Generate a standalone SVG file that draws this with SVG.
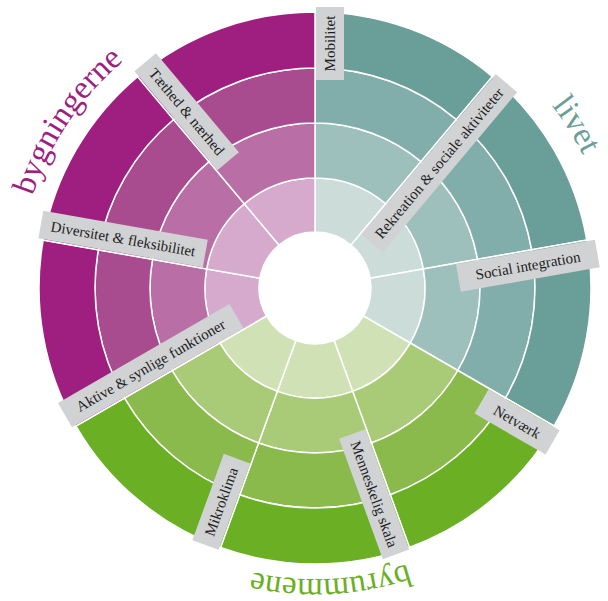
<svg xmlns="http://www.w3.org/2000/svg" width="608" height="601" viewBox="0 0 608 601">
<style>
.seg{stroke:#ffffff;stroke-width:1.5}
.box{fill:#d1d2d4}
.lbl{font-family:"Liberation Serif",serif;font-size:15px;fill:#1e1e1e;text-anchor:middle}
.grp{font-family:"Liberation Serif",serif;font-size:33px;text-anchor:middle}
.t1{fill:#cbdcd9}.t2{fill:#9ec0bd}.t3{fill:#81aeaa}.t4{fill:#6a9e98}
.g1{fill:#d0e2b5}.g2{fill:#a9cb77}.g3{fill:#89ba4b}.g4{fill:#6aaf24}
.p1{fill:#d5aacd}.p2{fill:#b96ea5}.p3{fill:#a94b8f}.p4{fill:#9e1f7f}
</style>
<defs>
<path id="r1" d="M0,-110 A110,110 0 0 1 70.71,-84.26 L36,-42.9 A56,56 0 0 0 0,-56 Z"/>
<path id="r2" d="M0,-165 A165,165 0 0 1 106.06,-126.4 L70.71,-84.26 A110,110 0 0 0 0,-110 Z"/>
<path id="r3" d="M0,-220 A220,220 0 0 1 141.41,-168.53 L106.06,-126.4 A165,165 0 0 0 0,-165 Z"/>
<path id="r4" d="M0,-276 A276,276 0 0 1 177.41,-211.43 L141.41,-168.53 A220,220 0 0 0 0,-220 Z"/>
<path id="arcBy" d="M48.1,418.2 A297,297 0 0 1 335.7,-8.3"/>
<path id="arcLi" d="M304.6,-10.8 A299,299 0 0 1 579,428.4"/>
<path id="arcRu" d="M574.3,420.1 A291,291 0 0 1 70.9,446.5"/>
</defs>

<g id="mobilitet" transform="translate(315 288)">
<g transform="rotate(0)"><use href="#r1" class="seg t1"/><use href="#r2" class="seg t2"/><use href="#r3" class="seg t3"/><use href="#r4" class="seg t4"/></g>
<g transform="rotate(-90)"><rect class="box" x="208" y="1" width="73" height="28"/><text class="lbl" x="244.5" y="20">Mobilitet</text></g>
</g>

<g id="rekreation" transform="translate(315 288)">
<g transform="rotate(40)"><use href="#r1" class="seg t1"/><use href="#r2" class="seg t2"/><use href="#r3" class="seg t3"/><use href="#r4" class="seg t4"/></g>
<g transform="rotate(-50)"><rect class="box" x="71" y="1" width="209" height="28"/><text class="lbl" x="175.5" y="20">Rekreation &amp; sociale aktiviteter</text></g>
</g>

<g id="social-integration" transform="translate(315 288)">
<g transform="rotate(80)"><use href="#r1" class="seg t1"/><use href="#r2" class="seg t2"/><use href="#r3" class="seg t3"/><use href="#r4" class="seg t4"/></g>
<g transform="rotate(-10)"><rect class="box" x="143" y="1" width="141" height="28"/><text class="lbl" x="213.5" y="20">Social integration</text></g>
</g>

<g id="netvaerk" transform="translate(315 288)">
<g transform="rotate(120)"><use href="#r1" class="seg g1"/><use href="#r2" class="seg g2"/><use href="#r3" class="seg g3"/><use href="#r4" class="seg g4"/></g>
<g transform="rotate(30)"><rect class="box" x="201" y="1" width="82" height="28"/><text class="lbl" x="242" y="20">Netværk</text></g>
</g>

<g id="menneskelig-skala" transform="translate(315 288)">
<g transform="rotate(160)"><use href="#r1" class="seg g1"/><use href="#r2" class="seg g2"/><use href="#r3" class="seg g3"/><use href="#r4" class="seg g4"/></g>
<g transform="rotate(70)"><rect class="box" x="150" y="1" width="128" height="28"/><text class="lbl" x="214" y="20">Menneskelig skala</text></g>
</g>

<g id="mikroklima" transform="translate(315 288)">
<g transform="rotate(200)"><use href="#r1" class="seg g1"/><use href="#r2" class="seg g2"/><use href="#r3" class="seg g3"/><use href="#r4" class="seg g4"/></g>
<g transform="rotate(290)"><rect class="box" x="-279" y="-29" width="92" height="28"/><text class="lbl" x="-233" y="-10">Mikroklima</text></g>
</g>

<g id="aktive-synlige" transform="translate(315 288)">
<g transform="rotate(240)"><use href="#r1" class="seg p1"/><use href="#r2" class="seg p2"/><use href="#r3" class="seg p3"/><use href="#r4" class="seg p4"/></g>
<g transform="rotate(330)"><rect class="box" x="-280" y="-29" width="198" height="28"/><text class="lbl" x="-181" y="-10">Aktive &amp; synlige funktioner</text></g>
</g>

<g id="diversitet" transform="translate(315 288)">
<g transform="rotate(280)"><use href="#r1" class="seg p1"/><use href="#r2" class="seg p2"/><use href="#r3" class="seg p3"/><use href="#r4" class="seg p4"/></g>
<g transform="rotate(370)"><rect class="box" x="-281" y="-29" width="167" height="28"/><text class="lbl" x="-197.5" y="-10">Diversitet &amp; fleksibilitet</text></g>
</g>

<g id="taethed" transform="translate(315 288)">
<g transform="rotate(320)"><use href="#r1" class="seg p1"/><use href="#r2" class="seg p2"/><use href="#r3" class="seg p3"/><use href="#r4" class="seg p4"/></g>
<g transform="rotate(410)"><rect class="box" x="-282" y="-29" width="129" height="28"/><text class="lbl" x="-217.5" y="-10">Tæthed &amp; nærhed</text></g>
</g>

<g id="group-labels">
<text class="grp" fill="#9e1f7f"><textPath href="#arcBy" startOffset="50%">bygningerne</textPath></text>
<text class="grp" fill="#6a9e98"><textPath href="#arcLi" startOffset="50%">livet</textPath></text>
<text class="grp" fill="#6aaf24"><textPath href="#arcRu" startOffset="50%">byrummene</textPath></text>
</g>
</svg>
